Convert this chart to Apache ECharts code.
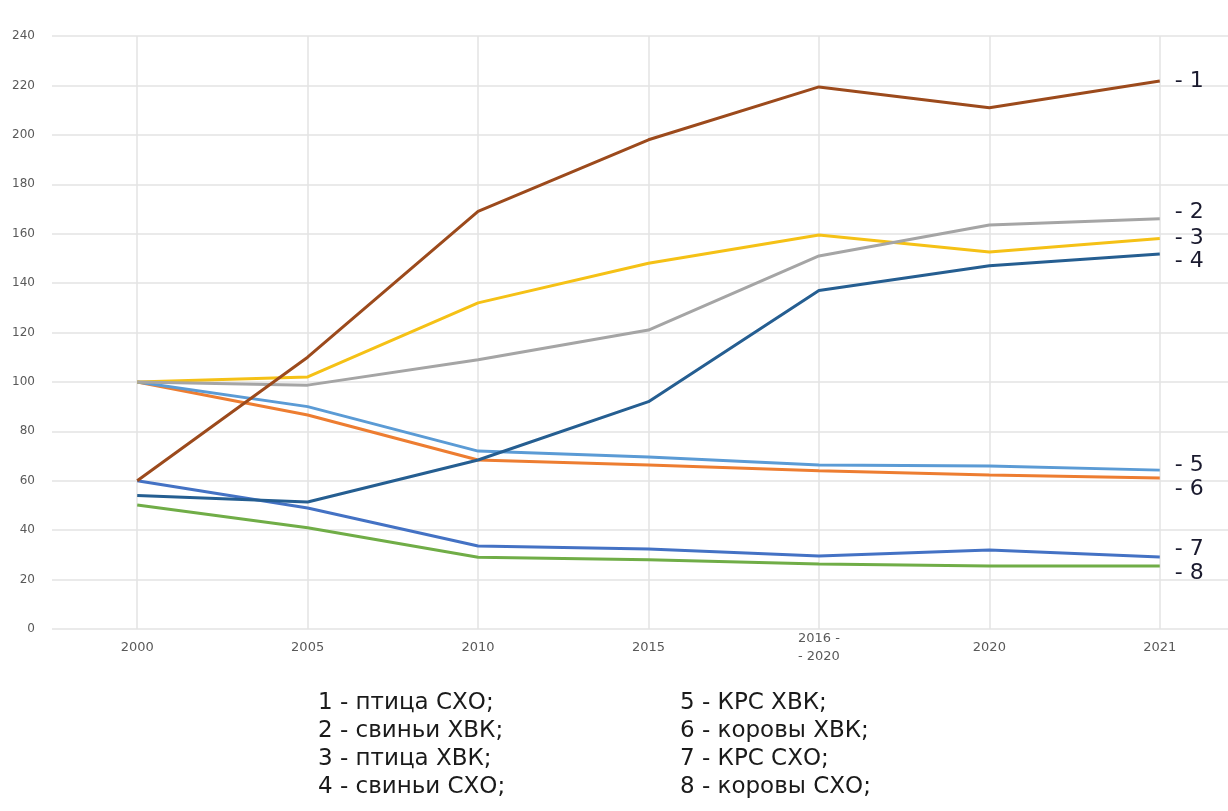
<!DOCTYPE html>
<html><head><meta charset="utf-8">
<script src="https://cdn.jsdelivr.net/npm/echarts@6/dist/echarts.min.js"></script>
<style>html,body{margin:0;padding:0;background:#fff;overflow:hidden;width:1228px;height:811px}#c{width:1245px;height:811px}</style>
</head><body><div id="c"></div>
<script>
const categories = ['2000','2005','2010','2015','2016 -\n- 2020','2020','2021'];
const s1 = [60, 110, 169, 198, 219.4, 211, 221.8];   // птица СХО
const s2 = [100, 98.7, 109, 121, 151, 163.5, 166];   // свиньи ХВК
const s3 = [100, 102, 132, 148, 159.5, 152.6, 158];  // птица ХВК
const s4 = [54, 51.4, 68.4, 92, 137, 147, 151.8];    // свиньи СХО
const s5 = [100, 90, 72, 69.6, 66.4, 66, 64.3];      // КРС ХВК
const s6 = [100, 86.6, 68.4, 66.4, 64, 62.3, 61.1];  // коровы ХВК
const s7 = [60, 49, 33.6, 32.4, 29.5, 32, 29.1];     // КРС СХО
const s8 = [50.2, 41, 29, 28, 26.3, 25.5, 25.5];     // коровы СХО
const endTags = ['- 1','- 2','- 3','- 4','- 5','- 6','- 7','- 8'];
const legendCol1 = ['1 - птица СХО;','2 - свиньи ХВК;','3 - птица ХВК;','4 - свиньи СХО;'];
const legendCol2 = ['5 - КРС ХВК;','6 - коровы ХВК;','7 - КРС СХО;','8 - коровы СХО;'];

const seriesData = [s1,s2,s3,s4,s5,s6,s7,s8];
const colors = ['#9c4a1c','#a5a5a5','#f5c116','#255e91','#5b9bd5','#ed7d31','#4472c4','#70ad47'];
const tagOffsets = [[0,0],[0,-7],[0,0],[0,7],[0,-5],[0,11],[0,-8],[0,7]];
const drawOrder = [7,6,5,4,3,2,1,0];

const series = drawOrder.map(i => ({
  type: 'line',
  data: seriesData[i],
  symbol: 'none',
  smooth: false,
  z: 10 - i,
  lineStyle: { color: colors[i], width: 3 },
  itemStyle: { color: colors[i] },
  endLabel: {
    show: true,
    formatter: endTags[i],
    distance: 15,
    offset: tagOffsets[i],
    color: '#1a1a2e',
    fontFamily: 'DejaVu Sans',
    fontSize: 22
  }
}));

const graphics = [];
legendCol1.forEach((t, k) => graphics.push({type:'text', left: 318, top: 692 + k*28, style:{text:t, font:'23px "DejaVu Sans"', fill:'#1a1a1a'}}));
legendCol2.forEach((t, k) => graphics.push({type:'text', left: 680, top: 692 + k*28, style:{text:t, font:'23px "DejaVu Sans"', fill:'#1a1a1a'}}));

const chart = echarts.init(document.getElementById('c'), null, {renderer:'canvas'});
chart.setOption({
  animation: false,
  backgroundColor: '#fff',
  grid: { left: 52, right: 0, top: 36, bottom: 182, containLabel: false },
  xAxis: {
    type: 'category',
    data: categories,
    boundaryGap: true,
    axisLine: { show: false },
    axisTick: { show: false },
    splitLine: { show: true, alignWithLabel: true, lineStyle: { color: '#e3e3e3', width: 1.5 } },
    axisLabel: { color: '#595959', fontSize: 13, fontFamily: 'DejaVu Sans', margin: 19, lineHeight: 18, verticalAlign: 'middle' }
  },
  yAxis: {
    type: 'value',
    min: 0, max: 240, interval: 20,
    axisLine: { show: false },
    axisTick: { show: false },
    splitLine: { show: true, lineStyle: { color: '#e3e3e3', width: 1.5 } },
    axisLabel: { color: '#595959', fontSize: 12, fontFamily: 'DejaVu Sans', margin: 17 }
  },
  series: series,
  graphic: graphics
});
</script></body></html>
